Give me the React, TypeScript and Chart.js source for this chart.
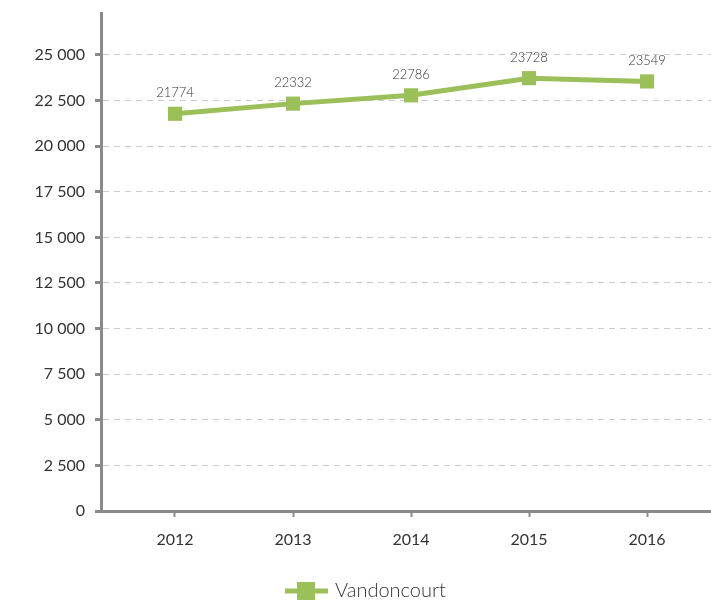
import React, { useEffect, useRef } from "react";
import { Chart, registerables } from "chart.js";

Chart.register(...registerables);

const years = [2012, 2013, 2014, 2015, 2016];
const values = [21774, 22332, 22786, 23728, 23549];
const seriesName = "Vandoncourt";
const yTicks = [0, 2500, 5000, 7500, 10000, 12500, 15000, 17500, 20000, 22500, 25000];

const GREEN = "#9bbf59";
const AXIS = "#8a8a8a";
const FONT = "Lato, 'Open Sans', sans-serif";

const fmt = (v: number) => String(v).replace(/\B(?=(\d{3})+(?!\d))/g, " ");

export default function App() {
  const ref = useRef<HTMLCanvasElement | null>(null);
  useEffect(() => {
    document.body.style.margin = "0";
    const canvas = ref.current!;
    const labelsPlugin = {
      id: "labelsAndLegend",
      afterDatasetsDraw(chart: any) {
        const ctx = chart.ctx;
        const meta = chart.getDatasetMeta(0);
        ctx.save();
        ctx.font = `300 13px ${FONT}`;
        ctx.fillStyle = "#333";
        ctx.textAlign = "center";
        ctx.textBaseline = "bottom";
        meta.data.forEach((pt: any, i: number) => {
          ctx.fillText(String(values[i]), pt.x, pt.y - 14);
        });
        ctx.restore();
      },
      afterDraw(chart: any) {
        const ctx = chart.ctx;
        ctx.save();
        const cy = 591;
        ctx.strokeStyle = GREEN;
        ctx.lineWidth = 5;
        ctx.beginPath();
        ctx.moveTo(285, cy);
        ctx.lineTo(328, cy);
        ctx.stroke();
        ctx.fillStyle = GREEN;
        ctx.fillRect(297, cy - 9, 18, 18);
        ctx.font = `300 20px ${FONT}`;
        ctx.fillStyle = "#333";
        ctx.textAlign = "left";
        ctx.textBaseline = "middle";
        ctx.fillText(chart.data.datasets[0].label, 335, cy);
        ctx.restore();
      },
    };
    const chart = new Chart(canvas, {
      type: "line",
      data: {
        datasets: [
          {
            label: seriesName,
            data: years.map((y, i) => ({ x: y, y: values[i] })),
            borderColor: GREEN,
            backgroundColor: GREEN,
            borderWidth: 5,
            pointStyle: "rect",
            pointRadius: 10,
            pointHoverRadius: 10,
            pointBorderWidth: 0,
            tension: 0,
          },
        ],
      },
      options: {
        animation: false,
        responsive: false,
        maintainAspectRatio: false,
        layout: { autoPadding: false, padding: { top: 13, right: 0, left: 0, bottom: 0 } },
        plugins: { legend: { display: false }, tooltip: { enabled: false } },
        scales: {
          x: {
            type: "linear",
            min: 2011.373,
            max: 2016.542,
            afterBuildTicks: (axis: any) => {
              axis.ticks = years.map((v) => ({ value: v }));
            },
            afterFit: (axis: any) => {
              axis.height = 91;
              axis.paddingLeft = 0;
              axis.paddingRight = 0;
            },
            ticks: {
              callback: (v: any) => String(v),
              font: { family: FONT, size: 16, weight: "400" },
              color: "#333",
              padding: 13,
              maxRotation: 0,
            },
            grid: {
              display: true,
              drawOnChartArea: false,
              drawTicks: true,
              tickLength: 6,
              tickColor: AXIS,
              tickWidth: 2,
            },
            border: { display: true, color: AXIS, width: 3 },
          },
          y: {
            min: 0,
            max: 27300,
            afterBuildTicks: (axis: any) => {
              axis.ticks = yTicks.map((v) => ({ value: v }));
            },
            afterFit: (axis: any) => {
              axis.width = 101;
              axis.paddingTop = 0;
              axis.paddingBottom = 0;
            },
            ticks: {
              callback: (v: any) => fmt(Number(v)),
              font: { family: FONT, size: 16, weight: "400" },
              color: "#333",
              padding: 10,
            },
            grid: {
              color: "#cccccc",
              lineWidth: 1,
              drawTicks: true,
              tickLength: 6,
              tickColor: AXIS,
              tickWidth: 3,
              tickBorderDash: [1, 0],
            },
            border: { display: true, color: AXIS, width: 3, dash: [6, 5] },
          },
        },
      },
      plugins: [labelsPlugin],
    } as any);
    return () => chart.destroy();
  }, []);
  return (
    <div style={{ width: 711, height: 602 }}>
      <canvas ref={ref} width={711} height={602} style={{ display: "block", width: 711, height: 602 }} />
    </div>
  );
}
